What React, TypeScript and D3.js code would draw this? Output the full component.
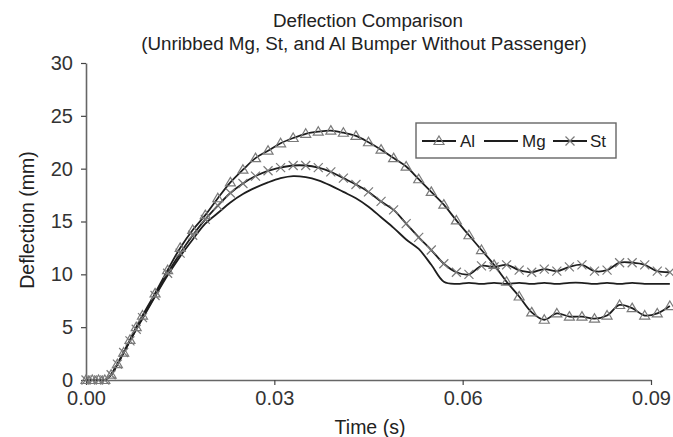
import React, { useEffect, useRef } from "react";
import * as d3 from "d3";

// time (s) of each sample
const time = [
  0, 0.001, 0.002, 0.003, 0.004, 0.005, 0.006, 0.007, 0.008, 0.009,
  0.011, 0.013, 0.015, 0.017, 0.019, 0.021, 0.023, 0.025, 0.027, 0.029,
  0.031, 0.033, 0.035, 0.037, 0.039, 0.041, 0.043, 0.045, 0.047, 0.049,
  0.051, 0.053, 0.055, 0.057, 0.059, 0.061, 0.063, 0.065, 0.067, 0.069,
  0.071, 0.073, 0.075, 0.077, 0.079, 0.081, 0.083, 0.085, 0.087, 0.089,
  0.091, 0.093,
];

// deflection (mm)
const al = [
  0, 0, 0, 0, 0.5, 1.5, 2.6, 3.8, 5.0, 6.1,
  8.2, 10.4, 12.5, 14.2, 15.6, 17.2, 18.7, 19.9, 21.0, 21.7,
  22.4, 22.9, 23.3, 23.5, 23.6, 23.4, 23.1, 22.5, 21.8, 21.0,
  20.2, 19.0, 17.8, 16.6, 15.1, 13.7, 12.3, 10.9, 9.3, 7.9,
  6.4, 5.7, 6.3, 6.0, 6.0, 5.8, 6.1, 7.1, 6.8, 6.1,
  6.3, 7.0,
];
const mg = [
  0, 0, 0, 0, 0.5, 1.5, 2.6, 3.7, 4.8, 5.8,
  7.9, 9.9, 11.7, 13.3, 14.8, 15.8, 16.8, 17.6, 18.2, 18.7,
  19.1, 19.3, 19.2, 18.9, 18.4, 17.8, 17.2, 16.4, 15.4, 14.4,
  13.3, 12.4, 10.9, 9.3, 9.1, 9.2, 9.1, 9.2, 9.1, 9.2,
  9.1, 9.2, 9.1, 9.2, 9.2, 9.1, 9.2, 9.1, 9.2, 9.1,
  9.1, 9.1,
];
const st = [
  0, 0, 0, 0, 0.5, 1.5, 2.6, 3.7, 4.8, 5.9,
  8.0, 10.1, 12.0, 13.7, 15.2, 16.5, 17.7, 18.6, 19.3, 19.8,
  20.1, 20.3, 20.3, 20.1, 19.7, 19.1, 18.5, 17.8, 16.9, 16.1,
  14.8, 13.5, 12.3, 11.0, 10.2, 10.0, 10.8, 10.7, 10.9, 10.4,
  10.2, 10.5, 10.3, 10.7, 10.9, 10.3, 10.4, 11.1, 11.1, 10.9,
  10.3, 10.2,
];

const xTicks = [0, 0.03, 0.06, 0.09];
const yTicks = [0, 5, 10, 15, 20, 25, 30];

const FONT = "'Liberation Sans', Arial, sans-serif";
const triPath = "M0,-5L5,3.5L-5,3.5Z";
const crossPath = "M-4.5,-4.5L4.5,4.5M-4.5,4.5L4.5,-4.5";

export default function App() {
  const ref = useRef<SVGSVGElement>(null);

  useEffect(() => {
    const svg = d3.select(ref.current);
    svg.selectAll("*").remove();

    const x = d3.scaleLinear().domain([0, 0.09]).range([86, 651]);
    const y = d3.scaleLinear().domain([0, 30]).range([380, 63]);

    // titles
    svg.append("text")
      .attr("x", 368).attr("y", 27)
      .attr("text-anchor", "middle")
      .attr("font-size", 18.8)
      .attr("fill", "#222")
      .text("Deflection Comparison");
    svg.append("text")
      .attr("x", 364).attr("y", 50)
      .attr("text-anchor", "middle")
      .attr("font-size", 18.8)
      .attr("fill", "#222")
      .text("(Unribbed Mg, St, and Al Bumper Without Passenger)");

    // axes
    const gx = svg.append("g")
      .attr("transform", "translate(0,380)")
      .call(d3.axisBottom(x).tickValues(xTicks).tickFormat(d3.format(".2f")).tickSize(5).tickSizeOuter(0).tickPadding(6));
    const gy = svg.append("g")
      .attr("transform", "translate(86,0)")
      .call(d3.axisLeft(y).tickValues(yTicks).tickFormat(d3.format("d")).tickSize(5).tickSizeOuter(0).tickPadding(8));
    [gx, gy].forEach(g => {
      g.select(".domain").attr("stroke", "#666").attr("stroke-width", 1.6);
      g.selectAll(".tick line").attr("stroke", "#444").attr("stroke-width", 1.2);
      g.selectAll(".tick text")
        .attr("font-family", FONT)
        .attr("font-size", 20)
        .attr("fill", "#333");
    });

    svg.append("text")
      .attr("x", 370).attr("y", 434)
      .attr("text-anchor", "middle")
      .attr("font-size", 19.5)
      .attr("fill", "#222")
      .text("Time (s)");
    svg.append("text")
      .attr("transform", "translate(34,220) rotate(-90)")
      .attr("text-anchor", "middle")
      .attr("font-size", 19.5)
      .attr("fill", "#222")
      .text("Deflection (mm)");

    const line = d3.line<number>()
      .x((d, i) => x(time[i]))
      .y(d => y(d))
      .curve(d3.curveCatmullRom);

    const series = [
      { vals: mg, marker: null as string | null },
      { vals: st, marker: crossPath },
      { vals: al, marker: triPath },
    ];

    series.forEach(s => {
      svg.append("path")
        .datum(s.vals)
        .attr("fill", "none")
        .attr("stroke", "#1e1e1e")
        .attr("stroke-width", 1.8)
        .attr("d", line);
    });
    series.forEach(s => {
      if (!s.marker) return;
      svg.append("g")
        .selectAll("path")
        .data(s.vals)
        .join("path")
        .attr("transform", (d, i) => `translate(${x(time[i])},${y(d)})`)
        .attr("d", s.marker)
        .attr("fill", "none")
        .attr("stroke", "#7a7a7a")
        .attr("stroke-width", 1.2);
    });

    // legend
    const lg = svg.append("g");
    lg.append("rect")
      .attr("x", 416).attr("y", 123).attr("width", 200).attr("height", 35)
      .attr("fill", "white").attr("stroke", "#666").attr("stroke-width", 1.4);
    const items = [
      { name: "Al", x0: 422, x1: 456, tx: 460, marker: triPath },
      { name: "Mg", x0: 484, x1: 518, tx: 522, marker: null as string | null },
      { name: "St", x0: 553, x1: 587, tx: 590, marker: crossPath },
    ];
    items.forEach(it => {
      lg.append("line")
        .attr("x1", it.x0).attr("x2", it.x1).attr("y1", 141).attr("y2", 141)
        .attr("stroke", "#1e1e1e").attr("stroke-width", 1.8);
      if (it.marker) {
        lg.append("path")
          .attr("transform", `translate(${(it.x0 + it.x1) / 2},141)`)
          .attr("d", it.marker)
          .attr("fill", "none")
          .attr("stroke", "#7a7a7a")
          .attr("stroke-width", 1.2);
      }
      lg.append("text")
        .attr("x", it.tx).attr("y", 147)
        .attr("font-size", 17)
        .attr("fill", "#222")
        .text(it.name);
    });
  }, []);

  return (
    <svg
      ref={ref}
      width={673}
      height={437}
      style={{ position: "absolute", left: 0, top: 0, background: "white", fontFamily: FONT }}
    />
  );
}
